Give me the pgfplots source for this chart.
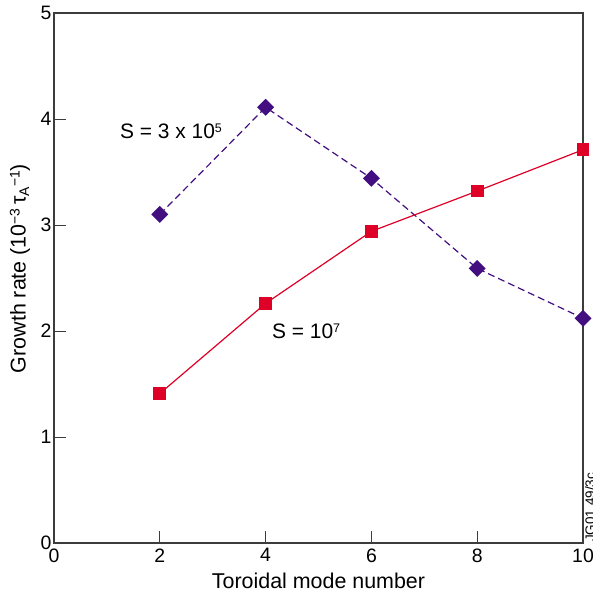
\documentclass[border=0pt]{standalone}
\usepackage{pgfplots}
\pgfplotsset{compat=1.18}
\usepackage{fontspec}
\setmainfont{Liberation Sans}
\usetikzlibrary{calc}

\definecolor{lowS}{RGB}{66,14,128}
\definecolor{highS}{RGB}{222,0,38}
\definecolor{frame}{RGB}{60,60,60}

% raised index with its top level with the capitals
\newcommand{\up}[1]{\raisebox{6.2bp}{\fontsize{12.5}{13}\selectfont #1}}
\newcommand{\upl}[1]{\raisebox{6.0bp}{\fontsize{14}{14}\selectfont #1}}
\newcommand{\dnl}[1]{\raisebox{-3.5bp}{\fontsize{14}{14}\selectfont #1}}

\begin{document}
\begin{tikzpicture}[x=1bp,y=1bp]
\begin{axis}[
  name=main,
  scale only axis,
  width=529bp, height=530bp,
  xmin=0, xmax=10, ymin=0, ymax=5,
  xtick={0,2,4,6,8,10},
  ytick={0,1,2,3,4,5},
  tick align=inside,
  xtick pos=bottom, ytick pos=left,
  major tick length=12bp,
  every tick/.style={frame, line width=0.9bp},
  axis line style={frame, line width=1.1bp},
  tick label style={font=\fontsize{19.5}{21}\selectfont},
  /pgf/number format/assume math mode=true,
  xticklabel style={yshift=-2bp},
  yticklabel style={xshift=1bp},
  xlabel={Toroidal mode number},
  ylabel={Growth rate (10\upl{−3}\,τ\dnl{A}\upl{−1})},
  label style={font=\fontsize{21.5}{23}\selectfont},
  xlabel style={at={(axis description cs:0.5,0)}, anchor=base, yshift=-45bp},
  ylabel style={at={(axis description cs:0,0.5)}, anchor=center, rotate=0, yshift=34bp, xshift=9.5bp},
  clip=false,
]
% S = 3 x 10^5
\addplot[lowS, dashed, dash pattern=on 7bp off 4bp, line width=1.2bp,
  mark=square*, mark size=5.4bp, mark options={solid, fill=lowS, rotate=45}]
  coordinates {(2,3.10) (4,4.11) (6,3.44) (8,2.59) (10,2.12)};
% S = 10^7
\addplot[highS, line width=1.2bp,
  mark=square*, mark size=5.8bp, mark options={fill=highS}]
  coordinates {(2,1.41) (4,2.26) (6,2.94) (8,3.32) (10,3.71)};

\node[anchor=west, inner sep=0pt, font=\fontsize{21}{22}\selectfont] at (axis cs:1.247,3.88)
  {S = 3 x 10\up{5}};
\node[anchor=west, inner sep=0pt, font=\fontsize{21}{22}\selectfont] at (axis cs:4.12,2.0)
  {S = 10\up{7}};
\end{axis}
\node[rotate=90, anchor=north west, font=\fontsize{13.5}{14}\selectfont, inner sep=0pt]
  at ($(main.south east)+(2bp,1bp)$) {JG01.49/3c};
\pgfresetboundingbox
\useasboundingbox ($(main.south west)+(-54bp,-54bp)$) rectangle ($(main.north east)+(9bp,13bp)$);
\end{tikzpicture}
\end{document}
